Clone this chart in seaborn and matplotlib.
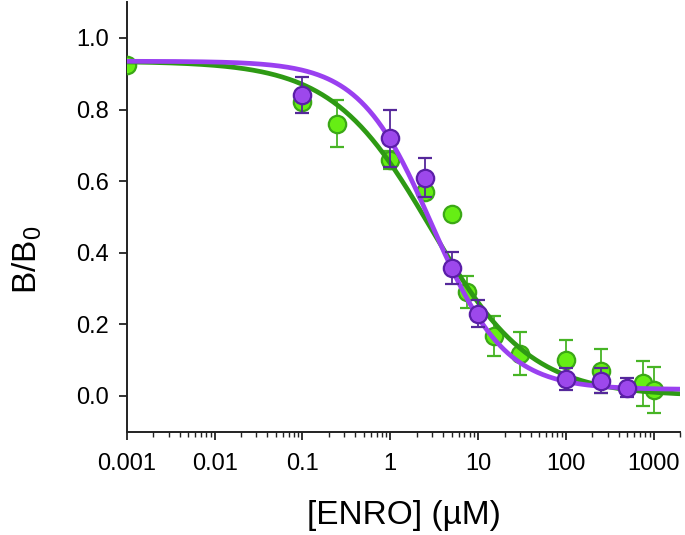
import numpy as np
import pandas as pd
import seaborn as sns
from matplotlib import pyplot as plt

# Measured points, green series
green_x = [0.001, 0.1, 0.25, 1, 2.5, 5, 7.5, 15, 30, 100, 250, 750, 1000]
green_y = [0.925, 0.82, 0.76, 0.66, 0.57, 0.507, 0.29, 0.167, 0.118, 0.10, 0.07, 0.035, 0.017]
green_err = [0, 0.01, 0.066, 0.025, 0.015, 0, 0.045, 0.055, 0.06, 0.057, 0.062, 0.062, 0.064]

# Measured points, purple series
purple_x = [0.1, 1, 2.5, 5, 10, 100, 250, 500]
purple_y = [0.84, 0.72, 0.61, 0.357, 0.23, 0.047, 0.042, 0.023]
purple_err = [0.05, 0.08, 0.055, 0.045, 0.038, 0.03, 0.035, 0.027]

# Four-parameter logistic fits: top, bottom, IC50, hill slope
green_fit = [0.935, 0.0, 2.92, 0.77]
purple_fit = [0.935, 0.018, 3.0, 1.05]

x_ticks = [0.001, 0.01, 0.1, 1, 10, 100, 1000]
x_tick_labels = ['0.001', '0.01', '0.1', '1', '10', '100', '1000']
y_ticks = [0.0, 0.2, 0.4, 0.6, 0.8, 1.0]


def logistic(x, top, bottom, ic50, hill):
    return bottom + (top - bottom) / (1 + (x / ic50) ** hill)


sns.set_style('ticks')
plt.rcParams['font.family'] = ['Liberation Sans', 'DejaVu Sans']
plt.rcParams['mathtext.fontset'] = 'custom'
plt.rcParams['mathtext.rm'] = 'Liberation Sans'
plt.rcParams['mathtext.it'] = 'Liberation Sans'
plt.rcParams['text.color'] = 'black'
plt.rcParams['axes.labelcolor'] = 'black'
plt.rcParams['xtick.color'] = 'black'
plt.rcParams['ytick.color'] = 'black'

fig, ax = plt.subplots(figsize=(6.85, 5.35), dpi=100)
fig.subplots_adjust(left=0.185, right=0.993, bottom=0.193, top=0.996)

xs = np.logspace(-3, np.log10(2000), 400)
curves = pd.DataFrame({
    'x': np.concatenate([xs, xs]),
    'y': np.concatenate([logistic(xs, *green_fit), logistic(xs, *purple_fit)]),
    'series': ['green'] * len(xs) + ['purple'] * len(xs),
})

# green points
ax.errorbar(green_x, green_y, yerr=green_err, fmt='o', ms=12.5, mfc='#66EE14', mec='#3BA816',
            mew=1.6, ecolor='#47B425', elinewidth=1.3, capsize=5, capthick=1.3, zorder=3)

sns.lineplot(data=curves[curves.series == 'green'], x='x', y='y', color='#2E9A14', lw=3.4,
             ax=ax, zorder=4, legend=False)
sns.lineplot(data=curves[curves.series == 'purple'], x='x', y='y', color='#9A40F0', lw=3.4,
             ax=ax, zorder=5, legend=False)

# purple points
ax.errorbar(purple_x, purple_y, yerr=purple_err, fmt='o', ms=12.5, mfc='#9D48EC', mec='#5B1EA8',
            mew=1.6, ecolor='#55289A', elinewidth=1.3, capsize=5, capthick=1.3, zorder=6)

ax.set_xscale('log')
ax.set_xlim(0.001, 2000)
ax.set_ylim(-0.1, 1.1)
ax.set_xticks(x_ticks)
ax.set_xticklabels(x_tick_labels)
ax.set_yticks(y_ticks)
ax.set_yticklabels(['%.1f' % v for v in y_ticks])

ax.set_xlabel('[ENRO] (µM)', fontsize=24, labelpad=18)
ax.set_ylabel('B/B$_0$', fontsize=24)
ax.yaxis.set_label_coords(-0.15, 0.4)

for side in ['top', 'right']:
    ax.spines[side].set_visible(False)
for side in ['left', 'bottom']:
    ax.spines[side].set_linewidth(1.4)
    ax.spines[side].set_color('#222222')

ax.tick_params(axis='both', which='major', labelsize=17, length=6, width=1.3, color='#222222')
ax.tick_params(axis='x', which='major', pad=9)
ax.tick_params(axis='y', which='major', pad=7)
ax.tick_params(axis='x', which='minor', length=3.5, width=1.0, color='#222222')

plt.savefig('out.png', dpi=100)
